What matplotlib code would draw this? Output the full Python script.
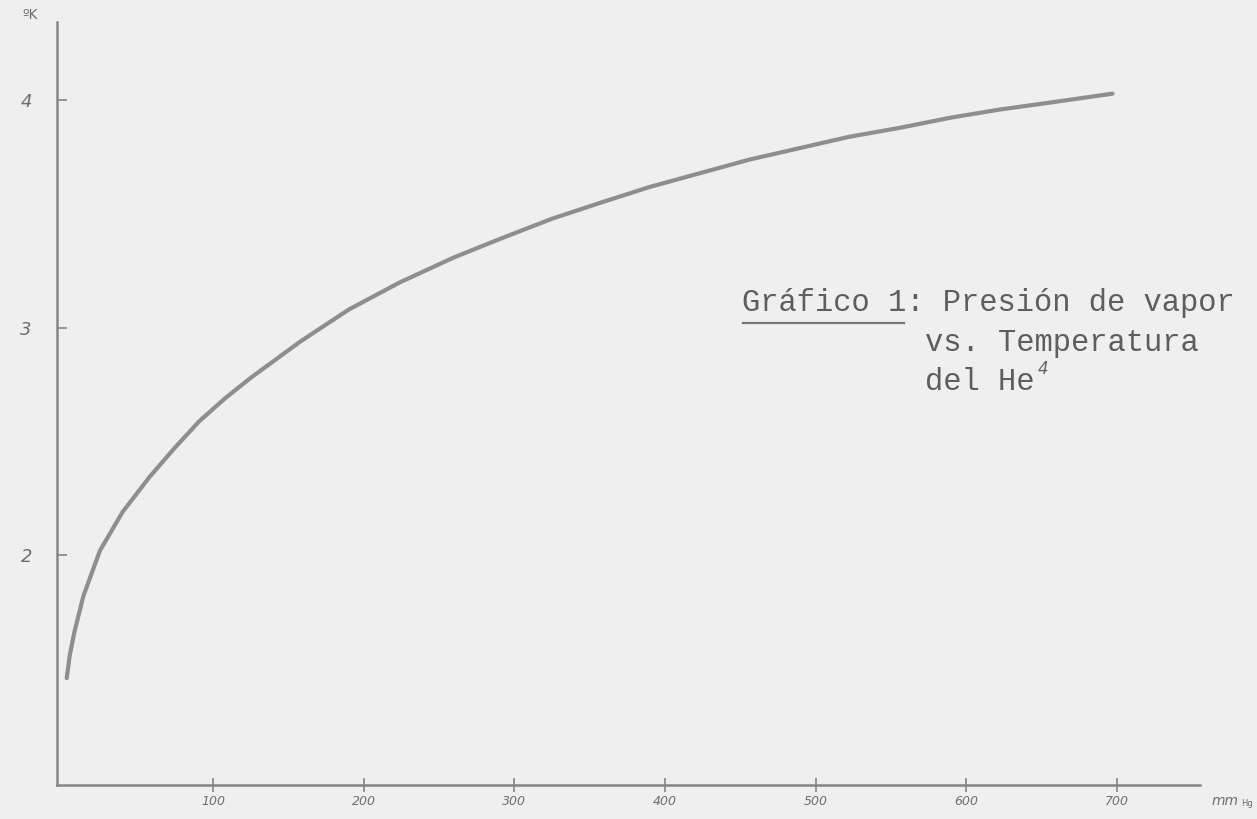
import numpy as np
import matplotlib.pyplot as plt

# Vapour pressure of He-4 (mm Hg) against temperature (K)
pressure = [3, 5, 8, 14, 25, 40, 58, 75, 91, 108, 125, 158, 190, 224, 260, 290, 325, 357,
            390, 423, 456, 489, 522, 556, 590, 622, 660, 697]
temperature = [1.46, 1.56, 1.66, 1.82, 2.02, 2.19, 2.345, 2.475, 2.59, 2.69, 2.78, 2.94, 3.08,
               3.20, 3.31, 3.39, 3.48, 3.55, 3.62, 3.68, 3.74, 3.79, 3.84, 3.88, 3.925,
               3.96, 3.995, 4.03]

x_ticks = [100, 200, 300, 400, 500, 600, 700]
y_ticks = [2, 3, 4]

paper = '#efefef'
pencil = '#858585'
ink = '#6e6e6e'

fig = plt.figure(figsize=(12.57, 8.19), dpi=100, facecolor=paper)
ax = fig.add_axes([0.0453, 0.0415, 0.9093, 0.9316], facecolor=paper)

ax.plot(pressure, temperature, color='#8e8e8e', linewidth=3.0,
        solid_capstyle='round', solid_joinstyle='round')

ax.set_xlim(-3.5, 755)
ax.set_ylim(0.99, 4.345)

for side in ['top', 'right']:
    ax.spines[side].set_visible(False)
for side in ['left', 'bottom']:
    ax.spines[side].set_color(pencil)
    ax.spines[side].set_linewidth(1.8)

ax.set_xticks(x_ticks)
ax.set_xticklabels([str(v) for v in x_ticks], fontsize=9, color=ink, style='italic')
ax.set_yticks(y_ticks)
ax.set_yticklabels([str(v) for v in y_ticks], fontsize=13, color=ink, style='italic')
ax.tick_params(axis='x', direction='inout', length=10, width=1.2, color=pencil, pad=2)
ax.tick_params(axis='y', direction='in', length=7, width=1.2, color=pencil, pad=18)

# axis units
fig.text(22 / 1257, 1 - 15 / 819, 'ºK', fontsize=10, color=ink, ha='left', va='center')
fig.text(1212 / 1257, 1 - 801 / 819, 'mm', fontsize=10, color=ink, ha='left', va='center', style='italic')
fig.text(1241 / 1257, 1 - 803 / 819, 'Hg', fontsize=6, color=ink, ha='left', va='center')

# caption, typewritten
cap = dict(fontsize=22, color='#5e5e5e', family='Liberation Mono', va='baseline', ha='left')
fig.text(742 / 1257, 1 - 311 / 819, 'Gráfico 1: Presión de vapor', **cap)
fig.text(925 / 1257, 1 - 351 / 819, 'vs. Temperatura', **cap)
fig.text(925 / 1257, 1 - 390 / 819, 'del He', **cap)
fig.text(1038 / 1257, 1 - 374 / 819, '4', fontsize=12, color='#666666', style='italic', va='baseline')
fig.add_artist(plt.Line2D([743 / 1257, 904 / 1257], [1 - 323 / 819, 1 - 323 / 819],
                          color='#777777', linewidth=1.6))

fig.savefig('out.png', dpi=100, facecolor=paper)
